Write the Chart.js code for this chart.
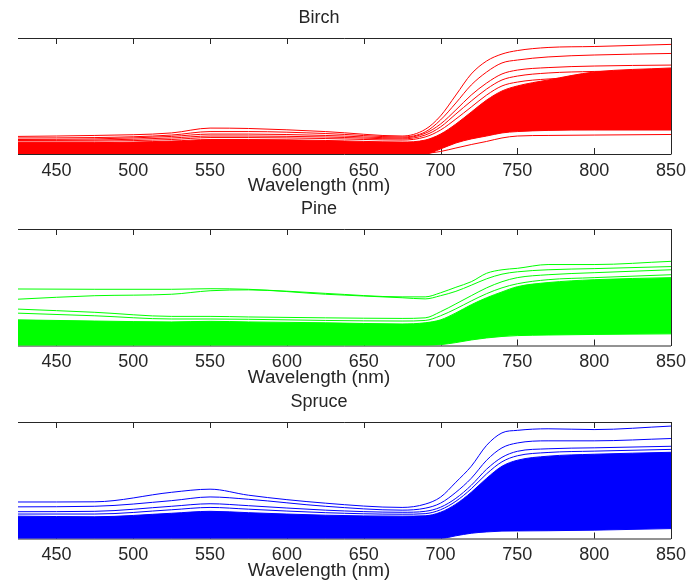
<!DOCTYPE html>
<html>
<head>
<meta charset="utf-8">
<title>Reflectance spectra</title>
<script src="https://cdn.jsdelivr.net/npm/chart.js@4.4.1/dist/chart.umd.min.js"></script>
<style>
  html, body { margin: 0; padding: 0; background: #fff; }
  body { width: 697px; height: 581px; position: relative; overflow: hidden; }
  canvas { position: absolute; left: 0; }
</style>
</head>
<body>
<canvas id="birch" width="697" height="197" style="top:0"></canvas>
<canvas id="pine" width="697" height="197" style="top:190px"></canvas>
<canvas id="spruce" width="697" height="199" style="top:382px"></canvas>
<script>
/* ================= DATA ================= */
const wavelengths = [425, 475, 525, 550, 575, 625, 675, 690, 700, 710, 720, 730, 740, 750, 770, 800, 850];
const xTicks = [450, 500, 550, 600, 650, 700, 750, 800, 850];

// birch: single spectra above the dense band, band edges, lowest spectrum
const birchA = [0.091, 0.096, 0.109, 0.134, 0.132, 0.116, 0.093, 0.127, 0.197, 0.305, 0.414, 0.481, 0.517, 0.535, 0.551, 0.556, 0.567];
const birchB = [0.083, 0.085, 0.098, 0.116, 0.116, 0.106, 0.088, 0.114, 0.176, 0.264, 0.357, 0.424, 0.471, 0.486, 0.502, 0.512, 0.520];
const birchC = [0.075, 0.078, 0.091, 0.103, 0.103, 0.096, 0.083, 0.107, 0.155, 0.228, 0.305, 0.367, 0.414, 0.434, 0.447, 0.455, 0.460];
const birchD = [0.070, 0.072, 0.083, 0.093, 0.093, 0.088, 0.078, 0.098, 0.140, 0.207, 0.274, 0.336, 0.383, 0.403, 0.419, 0.427, 0.434];
const birchE = [0.067, 0.067, 0.075, 0.085, 0.085, 0.080, 0.072, 0.088, 0.124, 0.181, 0.243, 0.305, 0.352, 0.372, 0.388, 0.396, 0.403];
const birchLow = [0, 0, 0, 0, 0, 0, 0, 0.003, 0.013, 0.031, 0.049, 0.065, 0.083, 0.093, 0.096, 0.098, 0.101];
const birchBandTop = [0.059, 0.059, 0.067, 0.075, 0.075, 0.070, 0.062, 0.072, 0.103, 0.155, 0.217, 0.279, 0.326, 0.352, 0.383, 0.424, 0.445];
const birchBandBottom = [0, 0, 0, 0, 0, 0, 0, 0, 0.026, 0.057, 0.078, 0.093, 0.109, 0.116, 0.122, 0.124, 0.124];

const pineA = [0.194, 0.193, 0.193, 0.195, 0.193, 0.179, 0.167, 0.167, 0.181, 0.200, 0.219, 0.248, 0.260, 0.265, 0.278, 0.278, 0.289];
const pineB = [0.159, 0.171, 0.176, 0.188, 0.191, 0.176, 0.164, 0.160, 0.171, 0.186, 0.207, 0.229, 0.245, 0.253, 0.260, 0.264, 0.271];
const pineC = [0.125, 0.114, 0.100, 0.100, 0.098, 0.095, 0.093, 0.095, 0.116, 0.143, 0.171, 0.198, 0.219, 0.233, 0.243, 0.250, 0.260];
const pineD = [0.111, 0.102, 0.091, 0.091, 0.090, 0.086, 0.084, 0.086, 0.102, 0.126, 0.153, 0.178, 0.198, 0.212, 0.226, 0.233, 0.243];
const pineBandTop = [0.088, 0.084, 0.081, 0.083, 0.081, 0.078, 0.074, 0.078, 0.088, 0.112, 0.140, 0.164, 0.184, 0.202, 0.216, 0.226, 0.233];
const pineBandBottom = [0, 0, 0, 0, 0, 0, 0, 0, 0.003, 0.010, 0.019, 0.026, 0.031, 0.034, 0.036, 0.038, 0.040];

const spruceA = [0.188, 0.189, 0.238, 0.254, 0.223, 0.182, 0.160, 0.177, 0.213, 0.290, 0.372, 0.480, 0.544, 0.557, 0.565, 0.561, 0.579];
const spruceB = [0.163, 0.166, 0.195, 0.214, 0.202, 0.166, 0.146, 0.156, 0.182, 0.238, 0.310, 0.403, 0.467, 0.492, 0.503, 0.503, 0.515];
const spruceC = [0.138, 0.140, 0.166, 0.179, 0.169, 0.146, 0.135, 0.140, 0.161, 0.207, 0.274, 0.357, 0.418, 0.449, 0.462, 0.467, 0.475];
const spruceD = [0.126, 0.126, 0.148, 0.160, 0.151, 0.133, 0.125, 0.128, 0.148, 0.192, 0.256, 0.333, 0.395, 0.426, 0.443, 0.450, 0.459];
const spruceBandTop = [0.115, 0.112, 0.130, 0.140, 0.133, 0.120, 0.115, 0.117, 0.135, 0.177, 0.238, 0.310, 0.372, 0.403, 0.424, 0.434, 0.444];
const spruceBandBottom = [0, 0, 0, 0, 0, 0, 0, 0, 0, 0.014, 0.027, 0.034, 0.038, 0.039, 0.040, 0.043, 0.051];

/* ================= STYLE ================= */
const axisColor = "#262626";
const fontFamily = "'Liberation Sans', Arial, sans-serif";
const tickLen = 6;

/* ================= FRAME + TEXT PLUGIN ================= */
const framePlugin = {
  id: "frame",
  beforeDatasetsDraw(chart, args, opts) {
    const { ctx, chartArea: a, scales: { x, y } } = chart;
    ctx.save();
    ctx.strokeStyle = axisColor;
    ctx.lineWidth = 1;
    ctx.beginPath();
    ctx.moveTo(a.left, a.bottom + 0.5);
    ctx.lineTo(a.right, a.bottom + 0.5);
    xTicks.forEach(t => {
      const px = Math.round(x.getPixelForValue(t)) + 0.5;
      ctx.moveTo(px, a.bottom);
      ctx.lineTo(px, a.bottom - tickLen);
    });
    opts.yTicks.forEach(t => {
      const py = Math.round(y.getPixelForValue(t)) + 0.5;
      ctx.moveTo(a.right, py);
      ctx.lineTo(a.right - tickLen, py);
    });
    ctx.stroke();
    ctx.restore();
  },
  afterDatasetsDraw(chart) {
    const { ctx, chartArea: a, scales: { x } } = chart;
    ctx.save();
    ctx.strokeStyle = axisColor;
    ctx.lineWidth = 1;
    ctx.beginPath();
    ctx.moveTo(a.left, a.top + 0.5);
    ctx.lineTo(a.right + 0.5, a.top + 0.5);
    ctx.lineTo(a.right + 0.5, a.bottom + 0.5);
    xTicks.forEach(t => {
      const px = Math.round(x.getPixelForValue(t)) + 0.5;
      ctx.moveTo(px, a.top);
      ctx.lineTo(px, a.top + tickLen);
    });
    ctx.stroke();
    ctx.restore();
  },
  afterDraw(chart, args, opts) {
    const { ctx, chartArea: a } = chart;
    ctx.save();
    ctx.fillStyle = axisColor;
    ctx.textAlign = "center";
    ctx.textBaseline = "alphabetic";
    ctx.font = "18px " + fontFamily;
    ctx.fillText(opts.title, opts.textX, a.top - 15);
    ctx.font = "18.8px " + fontFamily;
    ctx.fillText("Wavelength (nm)", opts.textX, a.bottom + 37);
    ctx.restore();
  }
};

/* ================= PANELS ================= */
function makePanel(id, title, color, lines, bandTop, bandBottom, yMax, yTicks, topPad, plotHeight) {
  const canvas = document.getElementById(id);
  const pts = arr => arr.map((v, i) => ({ x: wavelengths[i], y: v }));

  const datasets = lines.map(l => ({
    data: pts(l),
    borderColor: color,
    borderWidth: 1,
    fill: false
  }));
  // dense part of the spectra: area between the band edges
  datasets.push({ data: pts(bandTop), borderColor: color, backgroundColor: color, borderWidth: 1, fill: "+1" });
  datasets.push({ data: pts(bandBottom), borderColor: color, borderWidth: 1, fill: false });

  new Chart(canvas, {
    type: "line",
    data: { datasets },
    plugins: [framePlugin],
    options: {
      responsive: false,
      animation: false,
      layout: { padding: { left: 18, right: 26, top: topPad, bottom: 0 } },
      elements: {
        point: { radius: 0 },
        line: { cubicInterpolationMode: "monotone" }
      },
      plugins: {
        legend: { display: false },
        tooltip: { enabled: false },
        frame: { title, yTicks, textX: 319 }
      },
      scales: {
        x: {
          type: "linear",
          min: 425,
          max: 850,
          grid: { display: false, drawTicks: false },
          border: { display: false },
          afterBuildTicks: s => { s.ticks = xTicks.map(v => ({ value: v })); },
          afterFit: s => { s.height = canvas.height - topPad - plotHeight; },
          ticks: {
            autoSkip: false,
            maxRotation: 0,
            padding: 6,
            color: axisColor,
            font: { family: fontFamily, size: 18 }
          }
        },
        y: { type: "linear", min: 0, max: yMax, display: false }
      }
    }
  });
}

/* ================= INIT ================= */
makePanel("birch", "Birch", "#ff0000",
  [birchA, birchB, birchC, birchD, birchE, birchLow],
  birchBandTop, birchBandBottom, 0.6, [0.2, 0.4], 38, 116);

makePanel("pine", "Pine", "#00ff00",
  [pineA, pineB, pineC, pineD],
  pineBandTop, pineBandBottom, 0.4, [0.2], 39, 116.5);

makePanel("spruce", "Spruce", "#0000ff",
  [spruceA, spruceB, spruceC, spruceD],
  spruceBandTop, spruceBandBottom, 0.6, [0.2, 0.4], 40, 116.5);
</script>
</body>
</html>
